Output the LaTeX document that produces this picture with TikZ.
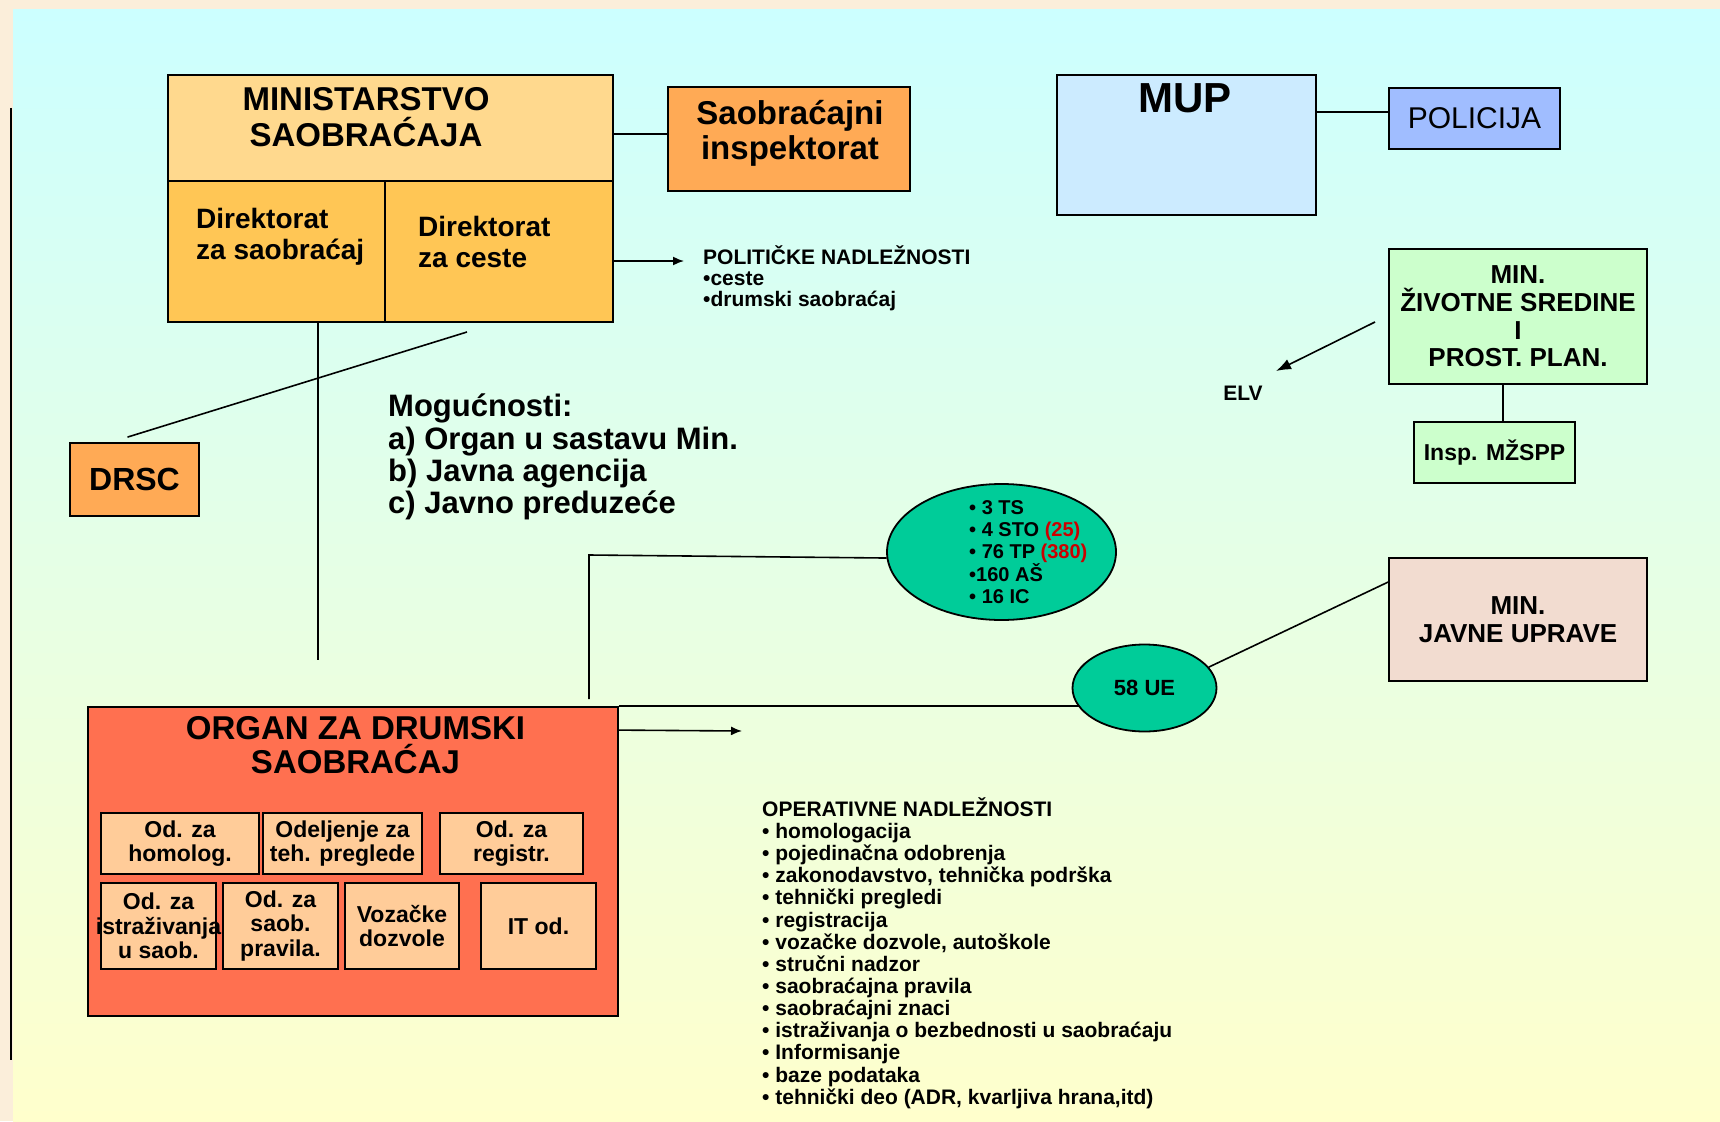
\documentclass[tikz,border=0pt]{standalone}
\usepackage{fontspec}
\setmainfont{Liberation Sans}
\usepackage{tikz}
\usetikzlibrary{calc,shapes.geometric,arrows.meta}
\newcommand{\pxsize}{1pt}
\newcommand{\bfsize}[2]{\fontsize{#1}{#2}\selectfont\bfseries}
\definecolor{outbeige}{HTML}{FBEEDA}
\definecolor{topcyan}{HTML}{CCFFFF}
\definecolor{botyellow}{HTML}{FFFFCC}
\definecolor{minlight}{HTML}{FFD98E}
\definecolor{dirgold}{HTML}{FFC655}
\definecolor{inspor}{HTML}{FFAA55}
\definecolor{mupblue}{HTML}{CCEBFF}
\definecolor{polblue}{HTML}{A0BDFF}
\definecolor{zivgreen}{HTML}{CCFFCC}
\definecolor{ovalgreen}{HTML}{00CC99}
\definecolor{jupink}{HTML}{F2DCD0}
\definecolor{organred}{HTML}{FF7050}
\definecolor{odpeach}{HTML}{FFCC99}
\definecolor{numred}{HTML}{CC0000}
\begin{document}
\begin{tikzpicture}[x=\pxsize,y=-\pxsize,
	every node/.style={inner sep=0pt},
	box/.style={draw, line width=1.8pt, align=center},
	odbox/.style={box, fill=odpeach, font=\bfsize{23}{24.5}},
	link/.style={line width=1.6pt}]
	\useasboundingbox (0,0) rectangle (1720,1121);
	\fill[outbeige] (0,0) rectangle (1720,1121);
	\shade[top color=topcyan, bottom color=botyellow] (13,10) rectangle (1720,1121);
	\draw[link] (11,108) -- (11,1060);

	% ministarstvo
	\node[box, fill=minlight, minimum width=445pt, minimum height=106pt] (min) at (390.5,128) {};
	\node[box, fill=dirgold, minimum width=217pt, minimum height=141pt] (dsa) at (276.5,251.5) {};
	\node[box, fill=dirgold, minimum width=228pt, minimum height=141pt] (dce) at (499,251.5) {};
	\node[font=\bfsize{33}{36}, align=center] at (366,117) {MINISTARSTVO\\SAOBRAĆAJA};
	\node[font=\bfsize{28}{31}, align=left, anchor=west] at (196,237) {Direktorat\\za saobraćaj};
	\node[font=\bfsize{28}{31}, align=left, anchor=west] at (418,242) {Direktorat\\za ceste};
	\node[box, fill=inspor, minimum width=242pt, minimum height=104pt] (sinsp) at (789,139) {};
	\node[font=\bfsize{33}{35}, align=center] at (790,133) {Saobraćajni\\inspektorat};

	% mup
	\node[box, fill=mupblue, minimum width=259pt, minimum height=140pt] (mup) at (1186.5,145) {};
	\node[font=\bfsize{42}{44}] at (1185,98) {MUP};
	\node[box, fill=polblue, minimum width=171pt, minimum height=61pt, font=\fontsize{30}{32}\selectfont] (pol) at (1474.5,118.5) {POLICIJA};
	\node[box, fill=zivgreen, minimum width=258pt, minimum height=135pt, font=\bfsize{26}{27.7}] (mzs) at (1518,316.5) {MIN.\\ŽIVOTNE SREDINE\\I\\PROST. PLAN.};
	\node[box, fill=zivgreen, minimum width=161pt, minimum height=61pt, font=\bfsize{23}{25}] (insp) at (1494.5,452.5) {Insp. MŽSPP};
	\node[font=\bfsize{21}{23}] (elv) at (1243,393) {ELV};

	% drsc, tekst
	\node[box, fill=inspor, minimum width=129pt, minimum height=73pt, font=\bfsize{32}{34}] (drsc) at (134.5,479.5) {DRSC};
	\node[font=\bfsize{31}{32.3}, align=left, anchor=west] (mog) at (388,457) {Mogućnosti:\\a) Organ u sastavu Min.\\b) Javna agencija\\c) Javno preduzeće};
	\node[font=\bfsize{21}{21}, align=left, anchor=west] (polit) at (703,278) {POLITIČKE NADLEŽNOSTI\\•ceste\\•drumski saobraćaj};

	% ovali
	\node[ellipse, draw, line width=1.8pt, fill=ovalgreen, minimum width=229pt, minimum height=136pt] (ts) at (1001.5,552) {};
	\node[font=\bfsize{20}{22}, align=left, anchor=west] at (969,552) {• 3 TS\\• 4 STO {\color{numred}(25)}\\• 76 TP {\color{numred}(380)}\\•160 AŠ\\• 16 IC};
	\node[ellipse, draw, line width=1.8pt, fill=ovalgreen, minimum width=144pt, minimum height=87pt, font=\bfsize{22}{24}] (ue) at (1144.5,688) {58 UE};
	\node[box, fill=jupink, minimum width=258pt, minimum height=123pt, font=\bfsize{26}{28}] (jup) at (1518,619.5) {MIN.\\JAVNE UPRAVE};

	% organ
	\node[box, fill=organred, minimum width=530pt, minimum height=309pt] (orgn) at (353,861.5) {};
	\node[font=\bfsize{33}{34}, align=center] at (355.5,745) {ORGAN ZA DRUMSKI\\SAOBRAĆAJ};
	\node[odbox, minimum width=158pt, minimum height=61pt] (ob1) at (180,843.5) {Od. za\\homolog.};
	\node[odbox, minimum width=159pt, minimum height=61pt] (ob2) at (342.5,843.5) {Odeljenje za\\teh. preglede};
	\node[odbox, minimum width=143pt, minimum height=61pt] (ob3) at (511.5,843.5) {Od. za\\registr.};
	\node[odbox, minimum width=115pt, minimum height=86pt] (ob4) at (158.5,926) {Od. za\\\makebox[0pt]{istraživanja}\\u saob.};
	\node[odbox, minimum width=115pt, minimum height=86pt] (ob5) at (280.5,926) {Od. za\\saob.\\pravila.};
	\node[odbox, minimum width=114pt, minimum height=86pt] (ob6) at (402,926) {Vozačke\\dozvole};
	\node[odbox, minimum width=115pt, minimum height=86pt] (ob7) at (538.5,926) {IT od.};
	\node[font=\bfsize{21}{22.15}, align=left, anchor=west] (oper) at (762,953) {OPERATIVNE NADLEŽNOSTI\\• homologacija\\• pojedinačna odobrenja\\• zakonodavstvo, tehnička podrška\\• tehnički pregledi\\• registracija\\• vozačke dozvole, autoškole\\• stručni nadzor\\• saobraćajna pravila\\• saobraćajni znaci\\• istraživanja o bezbednosti u saobraćaju\\• Informisanje\\• baze podataka\\• tehnički deo (ADR, kvarljiva hrana,itd)};

	\coordinate (pnend) at (684,261);
	\coordinate (elvs) at (1375,322);
	\coordinate (elve) at (1276,371);
	\coordinate (drend) at (467,332);
	\coordinate (vlend) at (318,660);
	\coordinate (tsknee) at (589,555);
	\coordinate (tsend) at (589,699);
	\coordinate (orgend) at (742,731);

	\draw[link] ([yshift=-6pt]min.east) -- ([yshift=-6pt]min.east -| sinsp.west);
	\draw[link] ([yshift=6.5pt]pol.west -| mup.east) -- ([yshift=6.5pt]pol.west);
	\draw[link, -{Latex[length=11pt,width=9pt]}] ([yshift=-9.5pt]dce.east) -- (pnend);
	\draw[link] ([xshift=41.5pt]dsa.south) -- (vlend);
	\draw[link] ([shift={(-7pt,5pt)}]drsc.north) -- (drend);
	\draw[link, -{Latex[length=15pt,width=11pt]}] (elvs) -- (elve);
	\draw[link] ([xshift=-15pt]mzs.south) -- ([xshift=-15pt]mzs.south |- insp.north);
	\draw[link] (ts.183) -- (tsknee) -- (tsend);
	\draw[link] (orgn.north east) -- (orgn.north east -| ue.197);
	\draw[link] (ue.18) -- ($(jup.north west)!0.2!(jup.south west)$);
	\draw[link, -{Latex[length=11pt,width=9pt]}] ([yshift=-24pt]orgn.north east) -- (orgend);
\end{tikzpicture}
\end{document}
